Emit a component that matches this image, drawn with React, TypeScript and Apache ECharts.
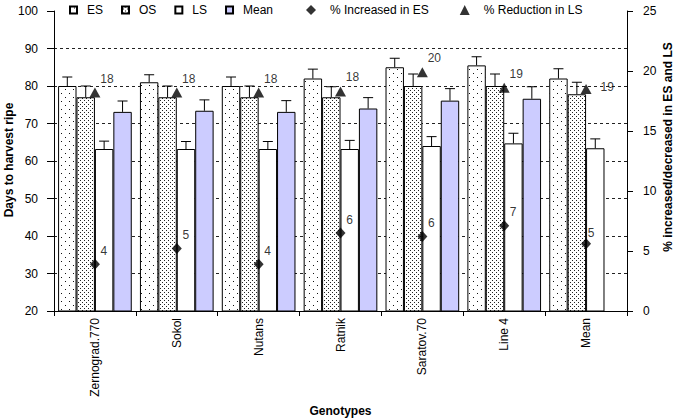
import React, { useEffect, useRef } from 'react';
import * as echarts from 'echarts';

const categories = ['Zernograd.770', 'Sokol', 'Nutans', 'Ratnik', 'Saratov.70', 'Line 4', 'Mean'];
const esValues = [80, 81, 80, 82, 85, 85.5, 82];
const osValues = [77, 77, 77, 77, 80, 80, 77.8];
const lsValues = [63.2, 63.2, 63.2, 63.2, 64, 64.7, 63.4];
const meanValues: (number | null)[] = [73.1, 73.4, 73.1, 74, 76.1, 76.6, null];
const esErr = [2.4, 2, 2.4, 2.5, 2.4, 2.3, 2.6];
const osErr = [3, 3, 3, 2.8, 3.2, 3.2, 3.2];
const lsErr = [2.1, 2, 2, 2.3, 2.5, 2.7, 2.5];
const meanErr: (number | null)[] = [2.9, 2.9, 3, 2.9, 3.2, 3.2, null];
const increasedES = [3.9, 5.2, 3.9, 6.5, 6.2, 7.1, 5.6];
const increasedLabels = ['4', '5', '4', '6', '6', '7', '5'];
const reductionLS = [18.2, 18.2, 18.2, 18.3, 19.9, 18.6, 18.5];
const reductionLabels = ['18', '18', '18', '18', '20', '19', '19'];
const leftAxis = { min: 20, max: 100, interval: 10 };
const rightAxis = { min: 0, max: 25, interval: 5 };
const leftAxisTitle = 'Days to harvest ripe';
const rightAxisTitle = '% increased/decreased in ES and LS';

const FONT = '"Liberation Sans", Arial, sans-serif';
const SQ = 'path://M0,0L10,0L10,10L0,10Z';
const DIAMOND = 'path://M5,0L10,5L5,10L0,5Z';
const TRI = 'path://M5,0L10,10L0,10Z';

function makePattern(size: number, dots: [number, number][], color: string) {
  const c = document.createElement('canvas');
  c.width = size;
  c.height = size;
  const ctx = c.getContext('2d')!;
  ctx.fillStyle = '#ffffff';
  ctx.fillRect(0, 0, size, size);
  ctx.fillStyle = color;
  dots.forEach(([x, y]) => ctx.fillRect(x, y, 1, 1));
  return { image: c, repeat: 'repeat', imageWidth: size, imageHeight: size } as any;
}

function errorSeries(values: (number | null)[], errs: (number | null)[], k: number) {
  const data: number[][] = [];
  values.forEach((v, i) => {
    if (v != null && errs[i] != null) data.push([i, v, errs[i] as number]);
  });
  return {
    type: 'custom',
    name: 'err' + k,
    yAxisIndex: 0,
    z: 3,
    silent: true,
    data,
    encode: { x: 0, y: 1 },
    renderItem: (params: any, api: any) => {
      const idx = api.value(0);
      const v = api.value(1);
      const e = api.value(2);
      const base = api.coord([idx, v]);
      const top = api.coord([idx, v + e]);
      const band = api.size([1, 0])[0];
      const bw = (band * 0.9) / 4;
      const x = base[0] - band * 0.45 + bw * (k + 0.5);
      const cap = 5;
      return {
        type: 'group',
        children: [
          { type: 'line', shape: { x1: x, y1: base[1], x2: x, y2: top[1] }, style: { stroke: '#000', lineWidth: 1 } },
          { type: 'line', shape: { x1: x - cap, y1: top[1], x2: x + cap, y2: top[1] }, style: { stroke: '#000', lineWidth: 1 } },
        ],
      };
    },
  };
}

export default function App() {
  const ref = useRef<HTMLDivElement>(null);
  useEffect(() => {
    if (!ref.current) return;
    const chart = echarts.init(ref.current, null, { renderer: 'svg' });
    const esPattern = makePattern(8, [[1, 1], [5, 5]], '#111');
    const osPattern = makePattern(4, [[0, 0], [2, 2]], '#222');
    const barCommon = {
      type: 'bar',
      yAxisIndex: 0,
      barGap: '0%',
      barCategoryGap: '10%',
      z: 2,
    };
    const titleStyle = {
      fontFamily: FONT,
      fontSize: 12,
      fontWeight: 'bold',
      fill: '#000',
      align: 'center',
      verticalAlign: 'middle',
    };
    const option: any = {
      animation: false,
      textStyle: { fontFamily: FONT, color: '#000' },
      grid: { left: 54, right: 54, top: 11, bottom: 109, outerBoundsMode: 'none', containLabel: false },
      legend: [
        {
          data: [
            { name: 'ES', icon: SQ },
            { name: 'OS', icon: SQ },
            { name: 'LS', icon: SQ },
            { name: 'Mean', icon: SQ },
          ],
          left: 64,
          top: -1,
          itemWidth: 17,
          itemHeight: 7,
          itemGap: 18,
          selectedMode: false,
          textStyle: { fontSize: 12, color: '#000', fontFamily: FONT },
        },
        {
          data: [
            { name: '% Increased in ES', icon: DIAMOND },
            { name: '% Reduction in LS', icon: TRI },
          ],
          left: 301,
          top: -1,
          itemWidth: 10,
          itemHeight: 10,
          itemGap: 31,
          selectedMode: false,
          textStyle: { fontSize: 12, color: '#000', fontFamily: FONT, padding: [0, 0, 0, 9] },
        },
      ],
      graphic: [
        {
          type: 'text',
          x: 9,
          y: 160,
          rotation: Math.PI / 2,
          silent: true,
          style: { ...titleStyle, text: leftAxisTitle },
        },
        {
          type: 'text',
          x: 668,
          y: 147,
          rotation: Math.PI / 2,
          silent: true,
          style: { ...titleStyle, text: rightAxisTitle },
        },
      ],
      xAxis: {
        type: 'category',
        data: categories,
        axisLine: { lineStyle: { color: '#000', width: 1 } },
        axisTick: { show: true, length: 5, lineStyle: { color: '#000' } },
        axisLabel: { rotate: 90, interval: 0, fontSize: 12, margin: 7, color: '#000', fontFamily: FONT },
        name: 'Genotypes',
        nameLocation: 'middle',
        nameGap: 90,
        nameTextStyle: { fontWeight: 'bold', fontSize: 12, color: '#000', fontFamily: FONT },
      },
      yAxis: [
        {
          type: 'value',
          position: 'left',
          min: leftAxis.min,
          max: leftAxis.max,
          interval: leftAxis.interval,
          axisLine: { show: true, lineStyle: { color: '#000', width: 1 } },
          axisTick: { show: true, length: 7, lineStyle: { color: '#000' } },
          axisLabel: { fontSize: 12, margin: 16, color: '#000', fontFamily: FONT },
          splitLine: {
            show: true,
            showMaxLine: false,
            showMinLine: false,
            lineStyle: { color: '#222', type: [3, 3], width: 1 },
          },
        },
        {
          type: 'value',
          position: 'right',
          min: rightAxis.min,
          max: rightAxis.max,
          interval: rightAxis.interval,
          axisLine: { show: true, lineStyle: { color: '#000', width: 1 } },
          axisTick: { show: true, length: 6, lineStyle: { color: '#000' } },
          axisLabel: { fontSize: 12, margin: 16, color: '#000', fontFamily: FONT },
          splitLine: { show: false },
        },
      ],
      series: [
        { ...barCommon, name: 'ES', data: esValues, itemStyle: { color: esPattern, borderColor: '#000', borderWidth: 1 } },
        { ...barCommon, name: 'OS', data: osValues, itemStyle: { color: osPattern, borderColor: '#000', borderWidth: 1 } },
        { ...barCommon, name: 'LS', data: lsValues, itemStyle: { color: '#ffffff', borderColor: '#000', borderWidth: 1 } },
        { ...barCommon, name: 'Mean', data: meanValues, itemStyle: { color: '#ccccff', borderColor: '#000', borderWidth: 1 } },
        errorSeries(esValues, esErr, 0),
        errorSeries(osValues, osErr, 1),
        errorSeries(lsValues, lsErr, 2),
        errorSeries(meanValues, meanErr, 3),
        {
          type: 'scatter',
          name: '% Increased in ES',
          yAxisIndex: 1,
          z: 5,
          symbol: 'diamond',
          symbolSize: [10, 11],
          itemStyle: { color: '#000' },
          data: increasedES.map((v, i) =>
            i === increasedES.length - 1
              ? { value: v, label: { offset: [5, 4] } }
              : { value: v }
          ),
          label: {
            show: true,
            position: 'top',
            distance: 3,
            offset: [9, 1],
            fontSize: 12,
            color: '#000',
            fontFamily: FONT,
            formatter: (p: any) => increasedLabels[p.dataIndex],
          },
        },
        {
          type: 'scatter',
          name: '% Reduction in LS',
          yAxisIndex: 1,
          z: 5,
          symbol: 'triangle',
          symbolSize: [11, 10],
          itemStyle: { color: '#000' },
          data: reductionLS.map((v, i) =>
            i === reductionLS.length - 1
              ? { value: v, label: { position: 'right', distance: 5, offset: [4, -2] } }
              : { value: v }
          ),
          label: {
            show: true,
            position: 'top',
            distance: 3,
            offset: [12, 0],
            fontSize: 12,
            color: '#000',
            fontFamily: FONT,
            formatter: (p: any) => reductionLabels[p.dataIndex],
          },
        },
      ],
    };
    chart.setOption(option);
    return () => chart.dispose();
  }, []);
  return <div ref={ref} style={{ width: 681, height: 420, position: 'absolute', left: 0, top: 0 }} />;
}
